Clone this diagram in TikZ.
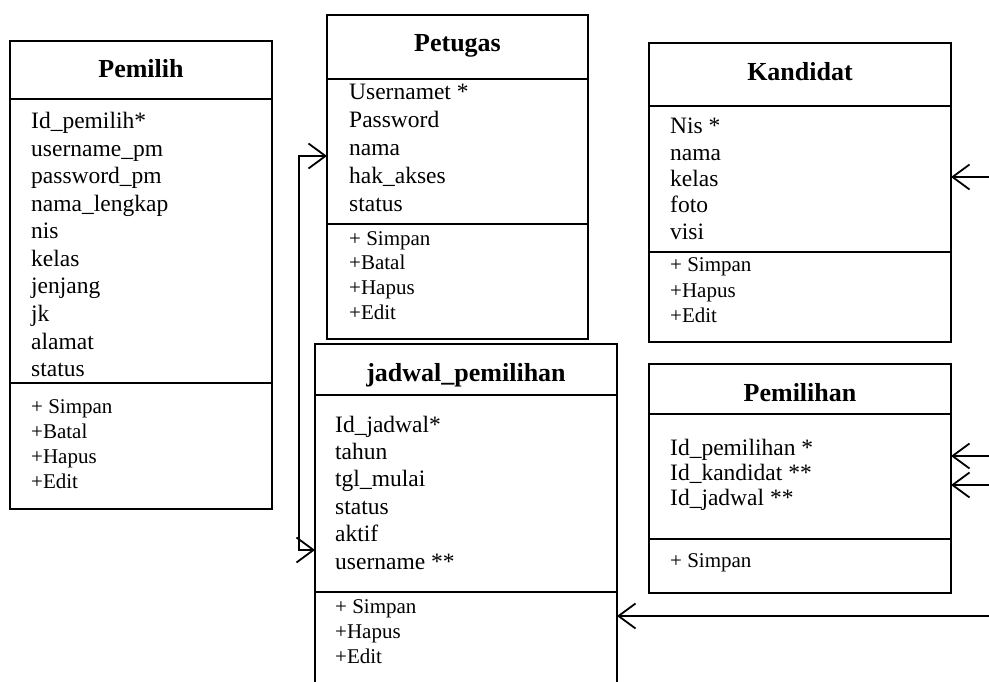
\documentclass[tikz,border=0pt]{standalone}
\usepackage{fontspec}
\setmainfont{Liberation Serif}
\usetikzlibrary{arrows.meta}
\begin{document}
\begin{tikzpicture}[x=1pt,y=-1pt,
  cls/.style={draw, line width=1.8pt, inner sep=0pt, outer sep=0pt},
  divline/.style={line width=1.8pt},
  ttl/.style={anchor=base, inner sep=0pt, font=\fontsize{26}{30}\selectfont\bfseries},
  attr/.style={anchor=base west, inner sep=0pt, font=\fontsize{23.5}{27}\selectfont},
  meth/.style={anchor=base west, inner sep=0pt, font=\fontsize{21}{25}\selectfont},
  conn/.style={line width=1.8pt},
  barb/.tip={Straight Barb[length=17pt,width=25pt,line width=1.8pt]}]
\useasboundingbox (0,0) rectangle (989,682);
\clip (0,0) rectangle (989,682);
\fill[white] (0,0) rectangle (989,682);

% Pemilih
\node[cls, minimum width=262, minimum height=468] (pemilih) at (141,275) {};
\draw[divline] (10,99) -- (272,99);
\draw[divline] (10,383) -- (272,383);
\node[ttl] (pemilihT) at (141,78) {Pemilih};
\foreach \t [count=\i] in {Id\_pemilih*, username\_pm, password\_pm, nama\_lengkap, nis, kelas, jenjang, jk, alamat, status}
  \node[attr] (pmA\i) at (31,{129+27.5*(\i-1)}) {\t};
\foreach \t [count=\i] in {+ Simpan, +Batal, +Hapus, +Edit}
  \node[meth] (pmM\i) at (31,{413+25.3*(\i-1)}) {\t};

% Petugas
\node[cls, minimum width=261, minimum height=324] (petugas) at (457.5,177) {};
\draw[divline] (327,79) -- (588,79);
\draw[divline] (327,224) -- (588,224);
\node[ttl] (petugasT) at (457.5,52) {Petugas};
\foreach \t [count=\i] in {Usernamet *, Password, nama, hak\_akses, status}
  \node[attr] (ptA\i) at (349,{100+28*(\i-1)}) {\t};
\foreach \t [count=\i] in {+ Simpan, +Batal, +Hapus, +Edit}
  \node[meth] (ptM\i) at (349,{245+24.7*(\i-1)}) {\t};

% Kandidat
\node[cls, minimum width=302, minimum height=299] (kandidat) at (800,192.5) {};
\draw[divline] (649,106) -- (951,106);
\draw[divline] (649,252) -- (951,252);
\node[ttl] (kandidatT) at (800,81) {Kandidat};
\foreach \t [count=\i] in {Nis *, nama, kelas, foto, visi}
  \node[attr] (kdA\i) at (670,{134+26.3*(\i-1)}) {\t};
\foreach \t [count=\i] in {+ Simpan, +Hapus, +Edit}
  \node[meth] (kdM\i) at (670,{272+25*(\i-1)}) {\t};

% jadwal_pemilihan
\node[cls, minimum width=302, minimum height=360] (jadwal) at (466,524) {};
\draw[divline] (315,395) -- (617,395);
\draw[divline] (315,592) -- (617,592);
\node[ttl] (jadwalT) at (466,381) {jadwal\_pemilihan};
\foreach \t [count=\i] in {Id\_jadwal*, tahun, tgl\_mulai, status, aktif, username **}
  \node[attr] (jdA\i) at (335,{432+27.4*(\i-1)}) {\t};
\foreach \t [count=\i] in {+ Simpan, +Hapus, +Edit}
  \node[meth] (jdM\i) at (335,{613+25*(\i-1)}) {\t};

% Pemilihan
\node[cls, minimum width=302, minimum height=229] (pemilihan) at (800,478.5) {};
\draw[divline] (649,414) -- (951,414);
\draw[divline] (649,539) -- (951,539);
\node[ttl] (pemilihanT) at (800,401) {Pemilihan};
\foreach \t [count=\i] in {Id\_pemilihan *, Id\_kandidat **, Id\_jadwal **}
  \node[attr] (plA\i) at (670,{455+25*(\i-1)}) {\t};
\node[meth] (plM1) at (670,567) {+ Simpan};

% connectors
\coordinate (j1) at (299,550);
\coordinate (p1) at (299,156);
\draw[conn, barb-barb] (jadwal.west |- j1) -- (j1) -- (p1) -- (petugas.west |- p1);

\coordinate (r1) at (989,177);
\coordinate (r2) at (989,456);
\coordinate (r3) at (989,485);
\coordinate (r4) at (989,616);
\draw[conn, -barb] (r1) -- (kandidat.east |- r1);
\draw[conn, -barb] (r2) -- (pemilihan.east |- r2);
\draw[conn, -barb] (r3) -- (pemilihan.east |- r3);
\draw[conn, -barb] (r4) -- (jadwal.east |- r4);
\end{tikzpicture}
\end{document}
